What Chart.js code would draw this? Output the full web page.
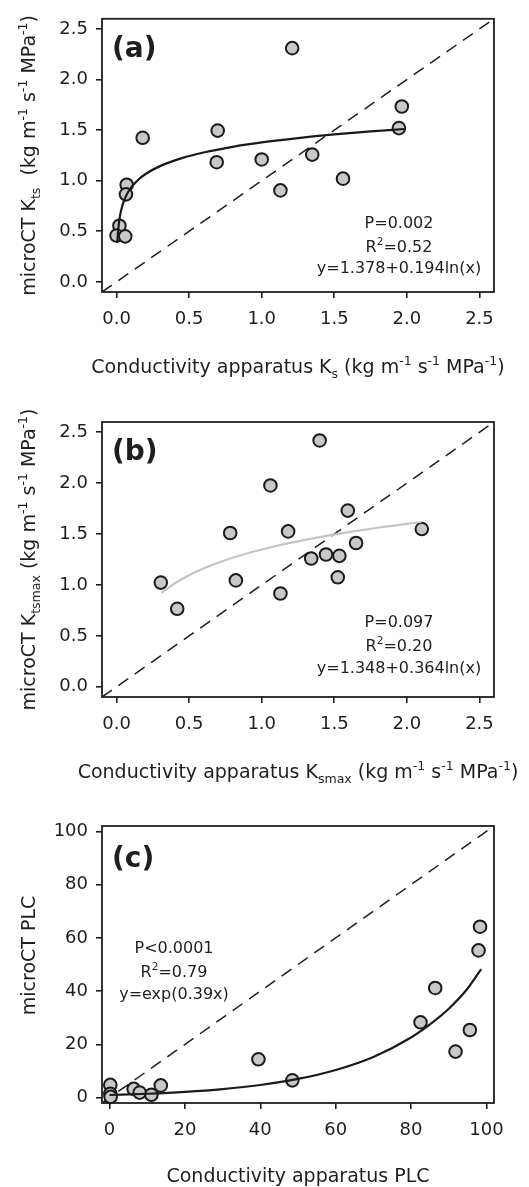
<!DOCTYPE html>
<html>
<head>
<meta charset="utf-8">
<script src="https://cdn.jsdelivr.net/npm/chart.js@4.4.1/dist/chart.umd.min.js"></script>
<style>
    body { margin: 0; background: #fff; }
    canvas { display: block; }
</style>
</head>
<body>
<canvas id="panelA" width="529" height="390"></canvas>
<canvas id="panelB" width="529" height="415"></canvas>
<canvas id="panelC" width="529" height="382"></canvas>
<script>
// ===================================== Datos (a): Ks vs Kts ==================
const ksA  = [1.21, 1.965, 1.945, 0.18, 0.697, 0.69, 1.0, 1.348, 1.129, 1.56, 0.07, 0.065, 0.02, 0.0, 0.06];
const ktsA = [2.31, 1.733, 1.52, 1.424, 1.495, 1.183, 1.21, 1.258, 0.904, 1.02, 0.96, 0.865, 0.555, 0.458, 0.45];
// curva ajustada
const fitXA = [0.006, 0.01, 0.02, 0.04, 0.07, 0.1, 0.15, 0.2, 0.3, 0.45, 0.6, 0.8, 1.0, 1.25, 1.5, 1.75, 1.98];
const fitYA = [0.386, 0.485, 0.619, 0.754, 0.862, 0.931, 1.010, 1.066, 1.144, 1.223, 1.279, 1.335, 1.378, 1.421, 1.457, 1.487, 1.511];

// ===================================== Datos (b): Ksmax vs Ktsmax ==================
const ksmaxB  = [1.399, 1.06, 1.593, 0.783, 1.182, 2.103, 1.65, 1.341, 1.443, 1.535, 1.524, 0.305, 0.822, 1.129, 0.418];
const ktsmaxB = [2.419, 1.977, 1.73, 1.51, 1.526, 1.549, 1.412, 1.26, 1.299, 1.286, 1.075, 1.023, 1.045, 0.916, 0.766];
const fitXB = [0.31, 0.4, 0.5, 0.65, 0.8, 1.0, 1.2, 1.4, 1.6, 1.8, 2.1];
const fitYB = [0.922, 1.014, 1.096, 1.191, 1.267, 1.348, 1.414, 1.470, 1.519, 1.562, 1.618];

// ===================================== Datos (c): PLC ==================
const plcApp = [98.3, 97.9, 86.4, 82.5, 95.6, 91.8, 39.5, 48.5, 13.6, 6.4, 8.0, 11.1, 0.2, 0.2, 0.3];
const plcCT  = [64.2, 55.3, 41.2, 28.3, 25.4, 17.3, 14.4, 6.5, 4.6, 3.3, 1.9, 1.1, 4.8, 1.5, 0.3];
const fitXC = [0, 10, 20, 30, 40, 50, 60, 70, 80, 85, 90, 95, 98.6];
const fitYC = [1.0, 1.48, 2.18, 3.22, 4.76, 7.03, 10.4, 15.3, 22.6, 27.5, 33.4, 41.0, 48.3];

// ===================================== Ejes ==================
const ticksK = [0, 0.5, 1.0, 1.5, 2.0, 2.5];
const rangoK = [-0.1, 2.6];
const ticksPLC = [0, 20, 40, 60, 80, 100];
const rangoPLC = [-2, 102];

const FUENTE = '"DejaVu Sans", "Liberation Sans", Arial, sans-serif';
const NEGRO = '#1e1e1e';


// ===================================== Texto con sub/superindices ==================
function medirRico(ctx, segs, size) {
    let w = 0;
    segs.forEach(s => {
        ctx.font = (s[1] ? size * 0.66 : size) + 'px ' + FUENTE;
        w += ctx.measureText(s[0]).width;
    });
    return w;
}

function dibujarRico(ctx, segs, cx, y, size) {
    let x = cx - medirRico(ctx, segs, size) / 2;
    ctx.textAlign = 'left';
    ctx.textBaseline = 'alphabetic';
    segs.forEach(s => {
        const sz = s[1] ? size * 0.66 : size;
        const dy = s[1] === 'sub' ? size * 0.25 : (s[1] === 'sup' ? -size * 0.42 : 0);
        ctx.font = sz + 'px ' + FUENTE;
        ctx.fillText(s[0], x, y + dy);
        x += ctx.measureText(s[0]).width;
    });
}


// ===================================== Plugin: marco, titulos y notas ==================
const textoPanel = {
    id: 'textoPanel',
    afterDraw(chart, args, o) {
        const ctx = chart.ctx, a = chart.chartArea;
        ctx.save();
        ctx.strokeStyle = NEGRO;
        ctx.lineWidth = 1.8;
        ctx.strokeRect(a.left, a.top, a.right - a.left, a.bottom - a.top);

        ctx.fillStyle = NEGRO;
        ctx.font = 'bold 28px ' + FUENTE;
        ctx.textAlign = 'left';
        ctx.textBaseline = 'alphabetic';
        ctx.fillText(o.etiqueta, a.left + 10, a.top + o.etiquetaDy);

        dibujarRico(ctx, o.tituloX, (a.left + a.right) / 2, a.bottom + o.tituloXDy, 19);

        ctx.save();
        ctx.translate(35, (a.top + a.bottom) / 2 + (o.tituloYDy || 0));
        ctx.rotate(-Math.PI / 2);
        dibujarRico(ctx, o.tituloY, 0, 0, 19);
        ctx.restore();

        o.notas.forEach((n, i) => dibujarRico(ctx, n, o.notasX, o.notasY[i], 16));
        ctx.restore();
    }
};


// ===================================== Escalas ==================
function escala(rango, ticks, decimales, pad, fit) {
    return {
        type: 'linear',
        min: rango[0],
        max: rango[1],
        afterBuildTicks: s => { s.ticks = ticks.map(v => ({ value: v })); },
        afterFit: fit,
        ticks: {
            callback: v => v.toFixed(decimales),
            font: { family: FUENTE, size: 18 },
            color: NEGRO,
            padding: pad
        },
        grid: {
            display: true,
            drawOnChartArea: false,
            drawTicks: true,
            tickLength: 6,
            color: NEGRO,
            lineWidth: 1.6
        },
        border: { display: false }
    };
}

function puntos(xs, ys) { return xs.map((x, i) => ({ x: x, y: ys[i] })); }


// ===================================== Crear un panel ==================
function crearPanel(id, cfg) {
    return new Chart(document.getElementById(id), {
        type: 'scatter',
        data: {
            datasets: [
                {
                    data: puntos(cfg.fitX, cfg.fitY),
                    showLine: true,
                    cubicInterpolationMode: 'monotone',
                    borderColor: cfg.colorAjuste,
                    borderWidth: 2.2,
                    pointRadius: 0,
                    order: 0
                },
                {
                    data: puntos(cfg.xs, cfg.ys),
                    pointRadius: 6.3,
                    pointBackgroundColor: '#c8c8c8',
                    pointBorderColor: '#1a1a1a',
                    pointBorderWidth: 2,
                    clip: false,
                    order: 1
                },
                {
                    data: [{ x: cfg.rango[0], y: cfg.rango[0] }, { x: cfg.rango[1], y: cfg.rango[1] }],
                    showLine: true,
                    borderColor: NEGRO,
                    borderWidth: 1.5,
                    borderDash: [12, 8],
                    pointRadius: 0,
                    order: 2
                }
            ]
        },
        options: {
            responsive: false,
            animation: false,
            devicePixelRatio: 1,
            layout: { padding: { top: cfg.arriba, right: 35, left: 0, bottom: 0 } },
            scales: {
                x: escala(cfg.rango, cfg.ticks, cfg.decimales, 11, s => { s.height = cfg.altoX; }),
                y: escala(cfg.rango, cfg.ticks, cfg.decimales, 8, s => { s.width = 102; })
            },
            plugins: {
                legend: { display: false },
                tooltip: { enabled: false },
                textoPanel: cfg.textos
            }
        },
        plugins: [textoPanel]
    });
}


// ===================================== Paneles ==================
crearPanel('panelA', {
    xs: ksA, ys: ktsA, fitX: fitXA, fitY: fitYA, colorAjuste: '#1a1a1a',
    rango: rangoK, ticks: ticksK, decimales: 1, arriba: 14, altoX: 98,
    textos: {
        etiqueta: '(a)', etiquetaDy: 38, tituloXDy: 81,
        tituloX: [['Conductivity apparatus K'], ['s', 'sub'], [' (kg m'], ['-1', 'sup'], [' s'], ['-1', 'sup'], [' MPa'], ['-1', 'sup'], [')']],
        tituloY: [['microCT K'], ['ts', 'sub'], ['  (kg m'], ['-1', 'sup'], [' s'], ['-1', 'sup'], [' MPa'], ['-1', 'sup'], [')']],
        notas: [[['P=0.002']], [['R'], ['2', 'sup'], ['=0.52']], [['y=1.378+0.194ln(x)']]],
        notasX: 399, notasY: [228, 251.5, 273]
    }
});

crearPanel('panelB', {
    xs: ksmaxB, ys: ktsmaxB, fitX: fitXB, fitY: fitYB, colorAjuste: '#c4c4c4',
    rango: rangoK, ticks: ticksK, decimales: 1, arriba: 32, altoX: 108,
    textos: {
        etiqueta: '(b)', etiquetaDy: 38, tituloXDy: 81,
        tituloX: [['Conductivity apparatus K'], ['smax', 'sub'], [' (kg m'], ['-1', 'sup'], [' s'], ['-1', 'sup'], [' MPa'], ['-1', 'sup'], [')']],
        tituloY: [['microCT K'], ['tsmax', 'sub'], [' (kg m'], ['-1', 'sup'], [' s'], ['-1', 'sup'], [' MPa'], ['-1', 'sup'], [')']],
        notas: [[['P=0.097']], [['R'], ['2', 'sup'], ['=0.20']], [['y=1.348+0.364ln(x)']]],
        notasX: 399, notasY: [237, 261, 283]
    }
});

crearPanel('panelC', {
    xs: plcApp, ys: plcCT, fitX: fitXC, fitY: fitYC, colorAjuste: '#1a1a1a',
    rango: rangoPLC, ticks: ticksPLC, decimales: 0, arriba: 21, altoX: 84,
    textos: {
        etiqueta: '(c)', etiquetaDy: 41, tituloXDy: 79, tituloYDy: -9,
        tituloX: [['Conductivity apparatus PLC']],
        tituloY: [['microCT PLC']],
        notas: [[['P<0.0001']], [['R'], ['2', 'sup'], ['=0.79']], [['y=exp(0.39x)']]],
        notasX: 174, notasY: [148, 172, 194]
    }
});
</script>
</body>
</html>
